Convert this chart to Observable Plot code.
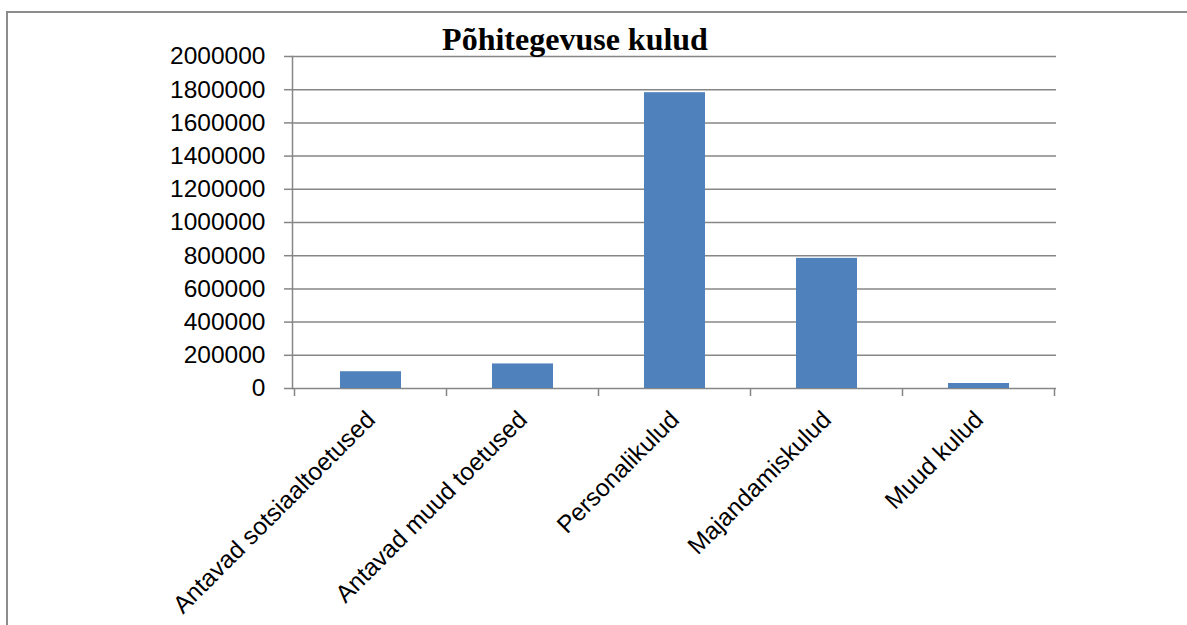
<!DOCTYPE html>
<html>
<head>
<meta charset="utf-8">
<script src="https://cdn.jsdelivr.net/npm/d3@7"></script>
<script src="https://cdn.jsdelivr.net/npm/@observablehq/plot@0.6"></script>
<style>
  html, body { margin: 0; padding: 0; background: #fff; overflow: hidden; }
  #wrap { position: relative; width: 1187px; height: 625px; overflow: hidden; }
  #border { position: absolute; left: 6px; top: 11px; width: 1400px; height: 900px; border: 2px solid #8c8c8c; box-sizing: border-box; }
  #title { position: absolute; left: 375px; top: 23px; width: 400px; text-align: center;
           font-family: "Liberation Serif", "Times New Roman", serif; font-weight: bold; font-size: 32px; line-height: 32px; color: #000; }
  #chart { position: absolute; left: 0; top: 0; }
</style>
</head>
<body>
<div id="wrap">
  <div id="border"></div>
  <div id="chart"></div>
  <div id="title">Põhitegevuse kulud</div>
</div>
<script>
const categories = ["Antavad sotsiaaltoetused", "Antavad muud toetused", "Personalikulud", "Majandamiskulud", "Muud kulud"];
const values = [101000, 148000, 1782000, 784000, 30000];
const yTicks = [0, 200000, 400000, 600000, 800000, 1000000, 1200000, 1400000, 1600000, 1800000, 2000000];

const data = categories.map((c, i) => ({category: c, value: values[i]}));
const gray = "#868686";

const plot = Plot.plot({
  width: 1187,
  height: 625,
  marginLeft: 292,
  marginRight: 131,
  marginTop: 56,
  marginBottom: 237,
  style: {fontFamily: "'Liberation Sans', Arial, sans-serif", fontSize: "24px", color: "#000", background: "transparent", overflow: "visible"},
  x: {domain: categories, paddingInner: 0.6, paddingOuter: 0.3, label: null},
  y: {domain: [0, 2000000], label: null},
  marks: [
    Plot.gridY(yTicks, {stroke: gray, strokeOpacity: 1, strokeWidth: 1.5}),
    Plot.barY(data, {x: "category", y: "value", fill: "#4f81bd"}),
    Plot.frame({anchor: "left", stroke: gray, strokeWidth: 1.5}),
    Plot.axisY(yTicks, {tickSize: 8, tickPadding: 19, stroke: gray, strokeWidth: 1.5, tickFormat: d => String(d), fontSize: 24.5, fill: "#000"}),
    Plot.axisX({tickRotate: -45, tickSize: 0, tickPadding: 27, fontSize: 24.5, fill: "#000"})
  ]
});

// boundary ticks between categories on the x axis
const xs = plot.scale("x");
const ys = plot.scale("y");
const y0 = ys.apply(0);
const gap = xs.step - xs.bandwidth;
const bounds = categories.map(c => xs.apply(c) - gap / 2);
bounds.push(bounds[bounds.length - 1] + xs.step);
d3.select(plot).append("g")
  .selectAll("line").data(bounds).join("line")
  .attr("x1", d => d).attr("x2", d => d)
  .attr("y1", y0).attr("y2", y0 + 8)
  .attr("stroke", gray).attr("stroke-width", 1.5);

document.getElementById("chart").appendChild(plot);
</script>
</body>
</html>
